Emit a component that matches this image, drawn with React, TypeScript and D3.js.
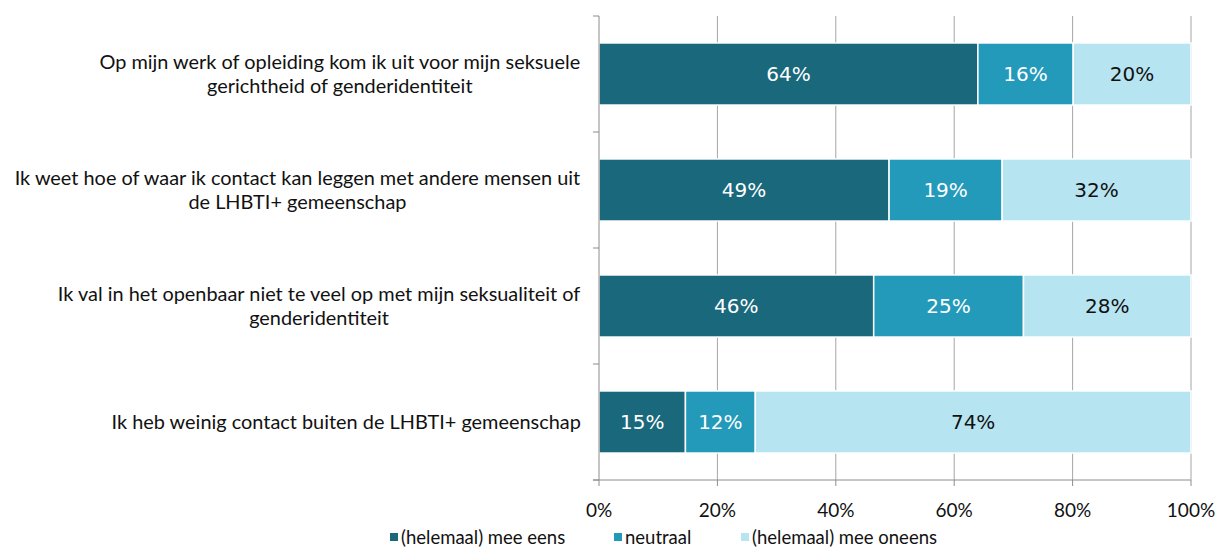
import React from "react";
import * as d3 from "d3";

const categories: string[][] = [
  ["Op mijn werk of opleiding kom ik uit voor mijn seksuele", "gerichtheid of genderidentiteit"],
  ["Ik weet hoe of waar ik contact kan leggen met andere mensen uit", "de LHBTI+ gemeenschap"],
  ["Ik val in het openbaar niet te veel op met mijn seksualiteit of", "genderidentiteit"],
  ["Ik heb weinig contact buiten de LHBTI+ gemeenschap"],
];
const seriesNames = ["(helemaal) mee eens", "neutraal", "(helemaal) mee oneens"];
const agree = [64.0, 49.0, 46.4, 14.6];
const neutral = [16.1, 19.1, 25.3, 11.8];
const disagree = [19.9, 31.9, 28.3, 73.6];
const xTicks = [0, 20, 40, 60, 80, 100];

const colors = ["#1a687c", "#249aba", "#b7e4f1"];
const labelColors = ["#ffffff", "#ffffff", "#111111"];

const W = 1218;
const H = 549;
const left = 599;
const right = 1191;
const top = 16;
const bottom = 480;

const catFont = "Lato, 'Open Sans', sans-serif";
const numFont = "'DejaVu Sans', Verdana, sans-serif";
const catSize = 19.9;

function measure(text: string, size: number, family: string): number {
  const c = document.createElement("canvas");
  const ctx = c.getContext("2d")!;
  ctx.font = `${size}px ${family}`;
  return ctx.measureText(text).width;
}

export default function App() {
  const x = d3.scaleLinear().domain([0, 100]).range([left, right]);
  const keys = categories.map((_, i) => String(i));
  const y = d3.scaleBand().domain(keys).range([top, bottom]).paddingInner(0.465).paddingOuter(0.2325);
  const series = [agree, neutral, disagree];
  const rows = categories.map((_, i) => ({ key: String(i), v0: agree[i], v1: neutral[i], v2: disagree[i] }));
  const stack = d3.stack<any>().keys(["v0", "v1", "v2"])(rows);
  const step = y.step();
  const bandEdges = d3.range(categories.length + 1).map((i) => top + i * step);
  const axisColor = "#8c8c8c";
  const labelRight = 581;

  const legendItems = [
    { x: 390, name: seriesNames[0] },
    { x: 614, name: seriesNames[1] },
    { x: 741, name: seriesNames[2] },
  ];

  return (
    <div style={{ position: "absolute", left: 0, top: 0 }}>
      <svg width={W} height={H} style={{ display: "block", background: "#fff" }}>
        {xTicks.slice(1).map((t) => (
          <line key={"g" + t} x1={x(t)} x2={x(t)} y1={top} y2={bottom} stroke="#a6a6a6" strokeWidth={1} />
        ))}
        {stack.map((layer, si) =>
          layer.map((d, i) => {
            const x0 = x(d[0]);
            const x1 = x(d[1]);
            const yy = y(String(i))!;
            const val = series[si][i];
            return (
              <g key={si + "-" + i}>
                <rect x={x0} y={yy} width={x1 - x0} height={y.bandwidth()} fill={colors[si]} stroke="#fff" strokeWidth={1.5} />
                <text
                  x={(x0 + x1) / 2}
                  y={yy + y.bandwidth() / 2}
                  dy="0.36em"
                  textAnchor="middle"
                  fontFamily={numFont}
                  fontSize={20}
                  fill={labelColors[si]}
                >
                  {Math.round(val) + "%"}
                </text>
              </g>
            );
          })
        )}
        <line x1={left} x2={left} y1={top} y2={bottom} stroke={axisColor} />
        {bandEdges.map((b, i) => (
          <line key={"yt" + i} x1={left - 6} x2={left} y1={b} y2={b} stroke={axisColor} />
        ))}
        <line x1={left - 6} x2={right} y1={bottom} y2={bottom} stroke={axisColor} />
        {xTicks.map((t) => (
          <g key={"xt" + t}>
            <line x1={x(t)} x2={x(t)} y1={bottom} y2={bottom + 6} stroke={axisColor} />
            <text x={x(t)} y={510} dy="0.35em" textAnchor="middle" fontFamily={catFont} fontSize={19} fill="#111">
              {t + "%"}
            </text>
          </g>
        ))}
        {categories.map((lines, i) => {
          const cy = y(String(i))! + y.bandwidth() / 2;
          const lh = 24.5;
          const start = cy - ((lines.length - 1) * lh) / 2;
          const maxW = Math.max(...lines.map((l) => measure(l, catSize, catFont)));
          const cx = labelRight - maxW / 2;
          return (
            <text key={"c" + i} textAnchor="middle" fontFamily={catFont} fontSize={catSize} fill="#111">
              {lines.map((l, j) => (
                <tspan key={j} x={cx} y={start + j * lh} dy="0.35em">
                  {l}
                </tspan>
              ))}
            </text>
          );
        })}
        {legendItems.map((it, i) => (
          <g key={"l" + i}>
            <rect x={it.x} y={533} width={8} height={8} fill={colors[i]} />
            <text x={it.x + 11} y={537.5} dy="0.35em" fontFamily={catFont} fontSize={18.5} fill="#111">
              {it.name}
            </text>
          </g>
        ))}
      </svg>
    </div>
  );
}
